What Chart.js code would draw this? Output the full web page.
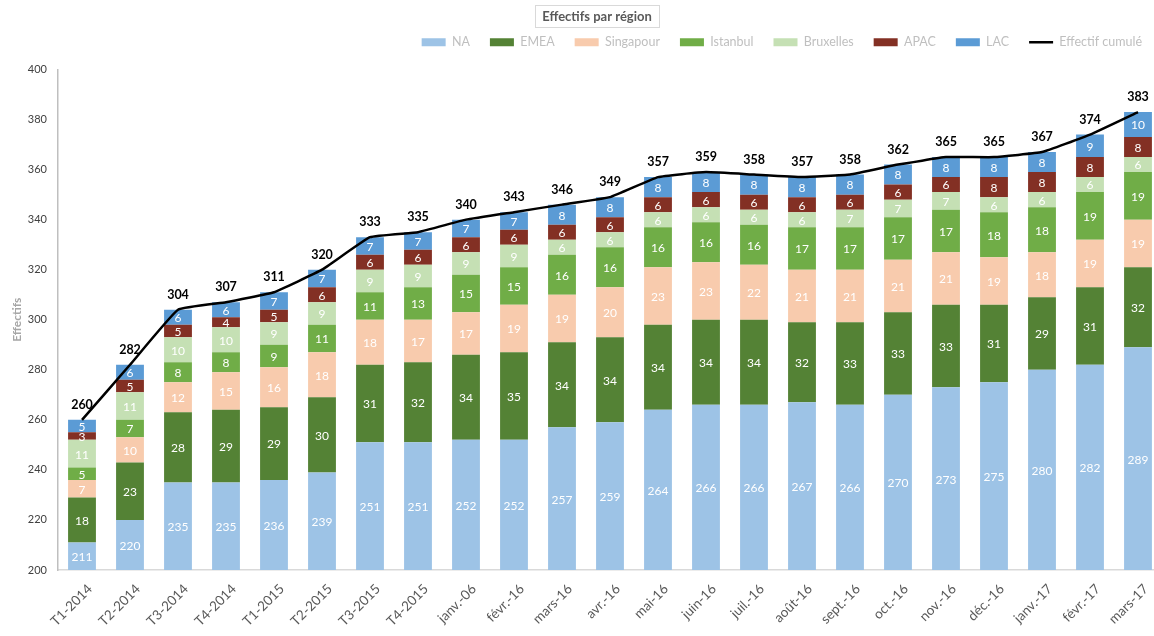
<!DOCTYPE html>
<html lang="fr">
<head>
<meta charset="utf-8">
<title>Effectifs par région</title>
<script src="https://cdn.jsdelivr.net/npm/chart.js@4.4.1/dist/chart.umd.min.js"></script>
<style>
  html, body { margin: 0; padding: 0; background: #fff; overflow: hidden; }
  #wrap { width: 1162px; height: 636px; }
</style>
</head>
<body>
<div id="wrap"><canvas id="chartRegion" width="1162" height="636"></canvas></div>
<script>
// périodes
const labels = ['T1-2014','T2-2014','T3-2014','T4-2014','T1-2015','T2-2015','T3-2015','T4-2015',
  'janv.-06','févr.-16','mars-16','avr.-16','mai-16','juin-16','juil.-16','août-16','sept.-16',
  'oct.-16','nov.-16','déc.-16','janv.-17','févr.-17','mars-17'];

// effectifs par région
const na        = [211,220,235,235,236,239,251,251,252,252,257,259,264,266,266,267,266,270,273,275,280,282,289];
const emea      = [18,23,28,29,29,30,31,32,34,35,34,34,34,34,34,32,33,33,33,31,29,31,32];
const singapour = [7,10,12,15,16,18,18,17,17,19,19,20,23,23,22,21,21,21,21,19,18,19,19];
const istanbul  = [5,7,8,8,9,11,11,13,15,15,16,16,16,16,16,17,17,17,17,18,18,19,19];
const bruxelles = [11,11,10,10,9,9,9,9,9,9,6,6,6,6,6,6,7,7,7,6,6,6,6];
const apac      = [3,5,5,4,5,6,6,6,6,6,6,6,6,6,6,6,6,6,6,8,8,8,8];
const lac       = [5,6,6,6,7,7,7,7,7,7,8,8,8,8,8,8,8,8,8,8,8,9,10];
const cumul     = [260,282,304,307,311,320,333,335,340,343,346,349,357,359,358,357,358,362,365,365,367,374,383];

const FONT = 'Lato, "Open Sans", sans-serif';

const bar = (label, data, color) => ({
  type: 'bar', label, data, backgroundColor: color, borderWidth: 0,
  stack: 'regions', order: 1, categoryPercentage: 1, barPercentage: 0.58
});

// titre encadré + légende remontée
const titleBox = {
  id: 'titleBox',
  afterLayout(chart) {
    // la légende est plus haute que la zone réservée
    chart.legend.top -= 11;
    chart.legend.bottom -= 11;
  },
  afterDraw(chart) {
    const ctx = chart.ctx;
    const text = 'Effectifs par région';
    ctx.save();
    ctx.font = `bold 13px ${FONT}`;
    const w = ctx.measureText(text).width + 14;
    const cx = 597, cy = 16;
    ctx.strokeStyle = '#d9d9d9';
    ctx.lineWidth = 1;
    ctx.strokeRect(Math.round(cx - w / 2) + 0.5, 5.5, Math.round(w), 22);
    ctx.fillStyle = '#595959';
    ctx.textAlign = 'center';
    ctx.textBaseline = 'middle';
    ctx.fillText(text, cx, cy + 1);
    ctx.restore();
  }
};

// étiquettes de valeurs
const valueLabels = {
  id: 'valueLabels',
  afterDatasetsDraw(chart) {
    const { ctx, chartArea } = chart;
    ctx.save();
    ctx.textAlign = 'center';
    ctx.textBaseline = 'middle';
    chart.data.datasets.forEach((ds, i) => {
      const meta = chart.getDatasetMeta(i);
      meta.data.forEach((el, j) => {
        const v = ds.data[j];
        if (ds.type === 'bar') {
          const { x, y, base } = el.getProps(['x', 'y', 'base'], true);
          const bottom = Math.min(base, chartArea.bottom);
          ctx.font = `12px ${FONT}`;
          ctx.fillStyle = '#ffffff';
          ctx.fillText(v, x, (y + bottom) / 2 + 1);
        } else {
          ctx.font = `bold 12.5px ${FONT}`;
          ctx.fillStyle = '#000000';
          ctx.fillText(v, el.x, el.y - 15);
        }
      });
    });
    ctx.restore();
  }
};

new Chart(document.getElementById('chartRegion'), {
  data: {
    labels,
    datasets: [
      bar('NA', na, '#9dc3e6'),
      bar('EMEA', emea, '#548235'),
      bar('Singapour', singapour, '#f8cbad'),
      bar('Istanbul', istanbul, '#70ad47'),
      bar('Bruxelles', bruxelles, '#c5e0b4'),
      bar('APAC', apac, '#833024'),
      bar('LAC', lac, '#5b9bd5'),
      {
        type: 'line', label: 'Effectif cumulé', data: cumul,
        borderColor: '#000000', backgroundColor: '#000000', borderWidth: 2.5,
        pointRadius: 0, tension: 0.1, stack: 'cumul', order: 0
      }
    ]
  },
  options: {
    responsive: false,
    animation: false,
    layout: { padding: { top: 27 } },
    plugins: {
      title: { display: false },
      tooltip: { enabled: false },
      legend: {
        position: 'top',
        align: 'end',
        labels: {
          usePointStyle: true,
          pointStyleWidth: 24,
          boxHeight: 8,
          padding: 20,
          color: '#bfbfbf',
          font: { family: FONT, size: 12.5 },
          sort: (a, b) => a.datasetIndex - b.datasetIndex,
          generateLabels: chart => Chart.defaults.plugins.legend.labels.generateLabels(chart).map(item => {
            const ds = chart.data.datasets[item.datasetIndex];
            if (ds.type === 'line') {
              item.pointStyle = 'line';
              item.strokeStyle = '#000000';
              item.lineWidth = 2.5;
            } else {
              item.pointStyle = 'rect';
              item.lineWidth = 0;
            }
            return item;
          })
        }
      }
    },
    scales: {
      x: {
        stacked: true,
        grid: { display: false },
        border: { display: true, color: '#d9d9d9', width: 1.5 },
        afterFit: s => { s.height = 66; },
        ticks: {
          autoSkip: false, minRotation: 45, maxRotation: 45, padding: 3, labelOffset: 8,
          color: '#595959', font: { family: FONT, size: 13.5 }
        }
      },
      y: {
        stacked: true,
        min: 200, max: 400,
        grid: { display: false },
        border: { display: true, color: '#bfbfbf', width: 1.5 },
        afterFit: s => { s.width = 58; },
        title: {
          display: true, text: 'Effectifs', color: '#a6a6a6',
          font: { family: FONT, size: 12, weight: 'bold' }, padding: { top: 10, bottom: 0 }
        },
        ticks: {
          stepSize: 20, padding: 3,
          color: '#404040', font: { family: FONT, size: 11 }
        }
      }
    }
  },
  plugins: [titleBox, valueLabels]
});
</script>
</body>
</html>
